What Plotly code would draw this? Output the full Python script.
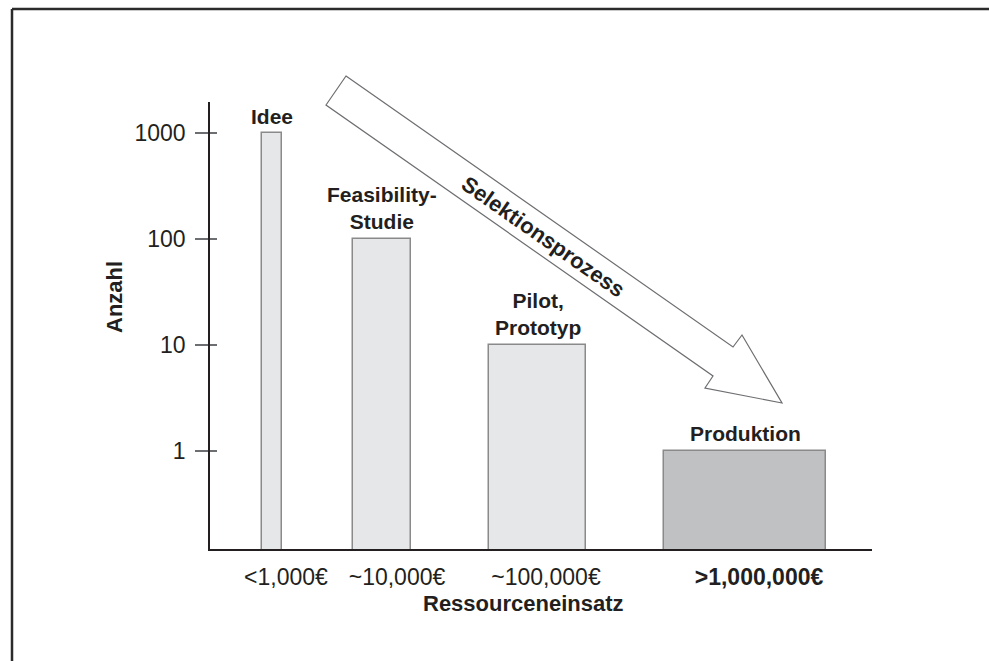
import math
import plotly.graph_objects as go

# Stages of the selection funnel
stages = ["Idee", "Feasibility-<br>Studie", "Pilot,<br>Prototyp", "Produktion"]
counts = [1000, 100, 10, 1]
cost_labels = ["<1,000€", "~10,000€", "~100,000€", "<b>>1,000,000€</b>"]
y_ticks = [1, 10, 100, 1000]

# Layout helpers (positions/styles)
W, H = 989, 661
ML, MR, MT, MB = 210, 117, 102, 112
PW, PH = W - ML - MR, H - MT - MB
bar_center = [62, 172, 327.5, 535]
bar_width = [20, 58, 97, 162]
label_pos = [76, 187, 336, 549]
bar_fill = ["#e6e7e8", "#e6e7e8", "#e6e7e8", "#c0c1c3"]
INK = "#231f20"
FONT = "Liberation Sans, Arial, sans-serif"


def px(x, y):
    """Convert page pixel coords to paper coords."""
    return (x - ML) / PW, 1 - (y - MT) / PH


fig = go.Figure()
fig.add_trace(go.Bar(
    x=bar_center, y=counts, width=bar_width, base=0.001,
    marker=dict(color=bar_fill, line=dict(color="#8a8a8a", width=1.5)),
    hoverinfo="skip", showlegend=False,
))
# invisible trace to anchor the inner tick marks axis
fig.add_trace(go.Scatter(x=[bar_center[0]], y=[counts[0]], yaxis="y2",
                         mode="markers", marker=dict(opacity=0),
                         hoverinfo="skip", showlegend=False))

# stage labels above bars
yshift = [3, 4, 4, 4]
for xc, c, s, dy in zip(bar_center, counts, stages, yshift):
    fig.add_annotation(x=xc, y=math.log10(c), xref="x", yref="y", text=f"<b>{s}</b>",
                       showarrow=False, yanchor="bottom", yshift=dy,
                       font=dict(size=21, color=INK, family=FONT))

# selection arrow
pts = [(346, 76), (733, 347), (742, 335), (782, 403), (705, 388), (713, 376), (326, 105)]
path = "M " + " L ".join(f"{px(a, b)[0]:.5f},{px(a, b)[1]:.5f}" for a, b in pts) + " Z"
fig.add_shape(type="path", path=path, xref="paper", yref="paper",
              line=dict(color="#6d6e71", width=1.2), fillcolor="white", layer="above")
tx, ty = px(543, 236)
fig.add_annotation(x=tx, y=ty, xref="paper", yref="paper", text="<b>Selektionsprozess</b>",
                   textangle=35, showarrow=False, xanchor="center", yanchor="middle",
                   font=dict(size=22, color=INK, family=FONT))

# frame (left and top edges)
fx0, fy0 = px(12, 9)
fx1, fy1 = px(995, 670)
fig.add_shape(type="line", xref="paper", yref="paper", x0=fx0, y0=fy0, x1=fx1, y1=fy0,
              line=dict(color="#2b2b2b", width=2.5))
fig.add_shape(type="line", xref="paper", yref="paper", x0=fx0, y0=fy0, x1=fx0, y1=fy1,
              line=dict(color="#2b2b2b", width=2.5))

# axis titles
ax, ay = px(523, 603)
fig.add_annotation(x=ax, y=ay, xref="paper", yref="paper", text="<b>Ressourceneinsatz</b>",
                   showarrow=False, xanchor="center", yanchor="middle",
                   font=dict(size=22, color=INK, family=FONT))
bx, by = px(114, 297)
fig.add_annotation(x=bx, y=by, xref="paper", yref="paper", text="<b>Anzahl</b>",
                   textangle=-90, showarrow=False, xanchor="center", yanchor="middle",
                   font=dict(size=22, color=INK, family=FONT))

yr = [-0.929, 3.292]
fig.update_layout(
    width=W, height=H, margin=dict(l=ML, r=MR, t=MT, b=MB),
    paper_bgcolor="white", plot_bgcolor="white",
    font=dict(family=FONT, color=INK),
    xaxis=dict(range=[0, PW], showgrid=False, zeroline=False, showline=True,
               linecolor=INK, linewidth=1.5, tickvals=label_pos, ticktext=cost_labels,
               ticks="", ticklabelstandoff=7, tickfont=dict(size=23, color=INK, family=FONT)),
    yaxis=dict(type="log", range=yr, showgrid=False, zeroline=False, showline=True,
               linecolor=INK, linewidth=1.5, tickvals=y_ticks,
               ticktext=[str(v) for v in y_ticks], ticks="outside", ticklen=13,
               tickcolor="#6d6e71", tickwidth=1.5, ticklabelstandoff=5,
               tickfont=dict(size=23, color=INK, family=FONT)),
    yaxis2=dict(type="log", range=yr, overlaying="y", side="left", anchor="x",
                showgrid=False, zeroline=False, showline=False, tickvals=y_ticks,
                showticklabels=False, ticks="inside", ticklen=7,
                tickcolor="#6d6e71", tickwidth=1.5),
    bargap=0,
)
fig.write_html("out.html")
